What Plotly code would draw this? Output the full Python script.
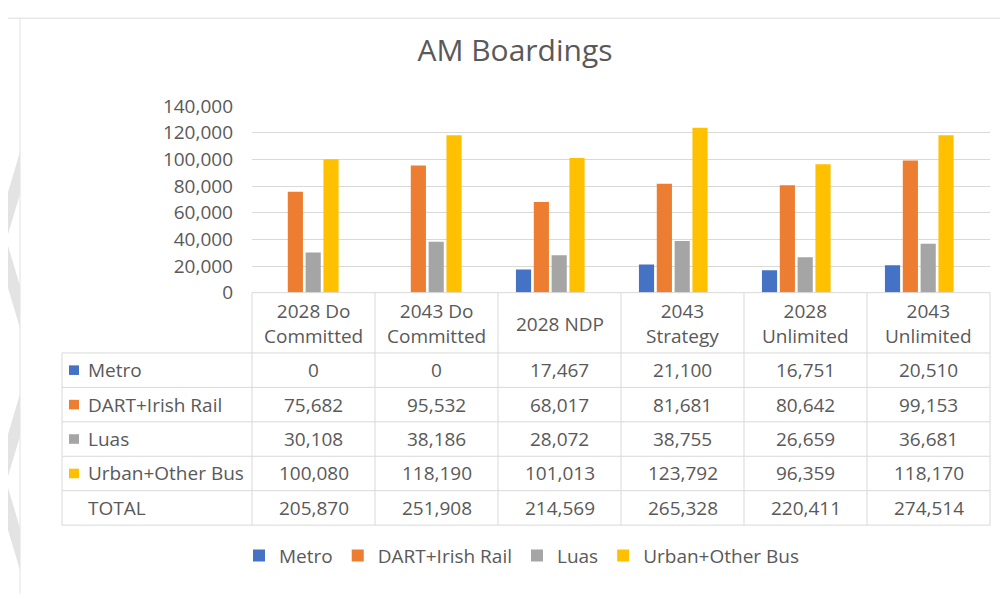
import plotly.graph_objects as go

W, H = 1008, 599
# the page body adds an 8px margin, so pixel positions are shifted back by it
OFF = 8

scenarios = ['2028 Do Committed', '2043 Do Committed', '2028 NDP',
             '2043 Strategy', '2028 Unlimited', '2043 Unlimited']
header_labels = ['2028 Do<br>Committed', '2043 Do<br>Committed', '2028 NDP',
                 '2043<br>Strategy', '2028<br>Unlimited', '2043<br>Unlimited']
modes = ['Metro', 'DART+Irish Rail', 'Luas', 'Urban+Other Bus']
metro = [0, 0, 17467, 21100, 16751, 20510]
dart = [75682, 95532, 68017, 81681, 80642, 99153]
luas = [30108, 38186, 28072, 38755, 26659, 36681]
bus = [100080, 118190, 101013, 123792, 96359, 118170]
total = [205870, 251908, 214569, 265328, 220411, 274514]
y_ticks = [0, 20000, 40000, 60000, 80000, 100000, 120000, 140000]

colors = ['#4472C4', '#ED7D31', '#A5A5A5', '#FFC000']
TXT = '#595959'
GRID = '#D9D9D9'
FONT = 'Open Sans'


def px(x):
    return (x - OFF) / W


def py(y):
    return 1 - (y - OFF) / H


fig = go.Figure()
for name, vals, col in zip(modes, [metro, dart, luas, bus], colors):
    fig.add_trace(go.Bar(name=name, x=scenarios, y=vals, marker_color=col,
                         marker_line_width=0))

# table geometry (pixels)
plot_l, plot_r = 252, 990
col_w = (plot_r - plot_l) / len(scenarios)
head_top, head_bot = 292, 355
row_h = 36
tab_l = 62

shapes = []
annotations = []

# background chevrons on the left edge
for ya in [237, 490, 745]:
    pts = [(0, ya - 22), (20, ya - 92), (20, ya - 48), (6.3, ya),
           (20, ya + 48), (20, ya + 92), (0, ya + 22)]
    path = 'M ' + ' L '.join(f'{px(x):.5f},{py(y):.5f}' for x, y in pts) + ' Z'
    shapes.append(dict(type='path', path=path, xref='paper', yref='paper',
                       fillcolor='#E3E3E3', line=dict(width=0), layer='below'))

# chart frame
shapes.append(dict(type='line', xref='paper', yref='paper', x0=px(0), x1=1,
                   y0=py(5), y1=py(5), line=dict(color='#DCDCDC', width=1)))
shapes.append(dict(type='line', xref='paper', yref='paper', x0=px(20), x1=px(20),
                   y0=py(5), y1=0, line=dict(color='#E2E2E2', width=1)))

line = dict(color=GRID, width=1)
n_rows = len(modes) + 1
tab_bot = head_bot + n_rows * row_h
shapes.append(dict(type='line', xref='paper', yref='paper', x0=px(plot_l), x1=px(plot_r),
                   y0=py(head_top), y1=py(head_top), line=line))
for i in range(n_rows + 1):
    y = head_bot + i * row_h
    shapes.append(dict(type='line', xref='paper', yref='paper', x0=px(tab_l), x1=px(plot_r),
                       y0=py(y), y1=py(y), line=line))
for j in range(len(scenarios) + 1):
    x = plot_l + j * col_w
    shapes.append(dict(type='line', xref='paper', yref='paper', x0=px(x), x1=px(x),
                       y0=py(head_top), y1=py(tab_bot), line=line))
shapes.append(dict(type='line', xref='paper', yref='paper', x0=px(tab_l), x1=px(tab_l),
                   y0=py(head_bot), y1=py(tab_bot), line=line))

tfont = dict(family=FONT, size=19, color=TXT)
for j, lab in enumerate(header_labels):
    annotations.append(dict(text=lab, x=px(plot_l + (j + 0.5) * col_w), y=py((head_top + head_bot) / 2 + 1),
                            xref='paper', yref='paper', showarrow=False, font=tfont,
                            xanchor='center', yanchor='middle'))

row_names = modes + ['TOTAL']
row_vals = [metro, dart, luas, bus, total]
for i, (name, vals) in enumerate(zip(row_names, row_vals)):
    yc = head_bot + (i + 0.5) * row_h
    if i < len(colors):
        shapes.append(dict(type='rect', xref='paper', yref='paper',
                           x0=px(69), x1=px(79), y0=py(yc - 5), y1=py(yc + 5),
                           fillcolor=colors[i], line=dict(width=0)))
    annotations.append(dict(text=name, x=px(86), y=py(yc), xref='paper', yref='paper',
                            showarrow=False, font=tfont, xanchor='left', yanchor='middle'))
    for j, v in enumerate(vals):
        annotations.append(dict(text=f'{v:,}', x=px(plot_l + (j + 0.5) * col_w), y=py(yc),
                                xref='paper', yref='paper', showarrow=False, font=tfont,
                                xanchor='center', yanchor='middle'))

fig.update_layout(
    width=W, height=H,
    margin=dict(l=0, r=0, t=0, b=0),
    paper_bgcolor='white', plot_bgcolor='white',
    title=dict(text='AM Boardings', x=px(515), y=py(50), xanchor='center', yanchor='middle',
               font=dict(family=FONT, size=30, color=TXT)),
    barmode='group', bargap=0.42, bargroupgap=0.15,
    xaxis=dict(domain=[px(plot_l), px(plot_r)], range=[-0.425, len(scenarios) - 0.425],
               showticklabels=False, showgrid=False, zeroline=False, showline=False),
    yaxis=dict(domain=[py(292), py(97)], range=[0, 140000], tickvals=y_ticks,
               tickformat=',', showgrid=True, gridcolor=GRID, gridwidth=1,
               zeroline=False, showline=False, ticks='', ticklabelstandoff=18,
               tickfont=dict(family=FONT, size=19, color=TXT)),
    legend=dict(orientation='h', x=px(522), xanchor='center', y=py(567), yanchor='middle',
                font=dict(family=FONT, size=19, color=TXT), bgcolor='rgba(0,0,0,0)',
                traceorder='normal'),
    shapes=shapes,
    annotations=annotations,
)

fig.write_html('out.html')
